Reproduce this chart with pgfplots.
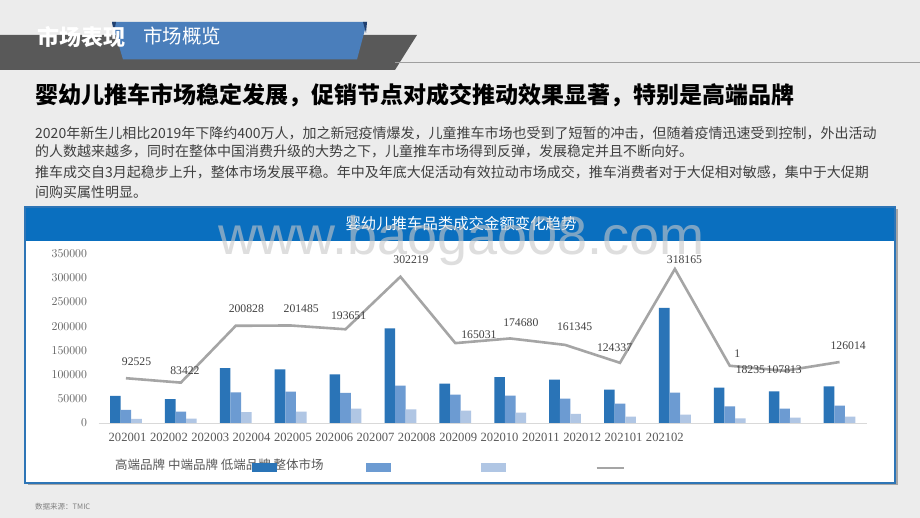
\documentclass[border=0pt]{standalone}
\usepackage{fontspec}
\setmainfont{Liberation Serif}
\newfontfamily\cjk{Noto Sans CJK SC}
\newfontfamily\wm{Liberation Sans}
\usepackage{pgfplots}
\pgfplotsset{compat=1.18}
\definecolor{bgc}{HTML}{ECECEC}
\definecolor{hdr}{HTML}{595959}
\definecolor{tab}{HTML}{4A7EBB}
\definecolor{tabdark}{HTML}{1F3F6F}
\definecolor{boxblue}{HTML}{0A6FBF}
\definecolor{boxedge}{HTML}{2E75B6}
\definecolor{c1}{HTML}{2A74B7}
\definecolor{c2}{HTML}{6C9BD2}
\definecolor{c3}{HTML}{B0C6E4}
\definecolor{linec}{HTML}{A5A5A5}
\definecolor{axisc}{HTML}{D9D9D9}
\definecolor{tickc}{HTML}{595959}
\definecolor{labc}{HTML}{404040}
\definecolor{parac}{HTML}{3F3F3F}

\pgfplotstableread{
x y dx dy lab
0 92525 0 17 92525
1 83422 -6.5 12 83422
2 200828 0 17 200828
3 201485 0 16.5 201485
4 193651 -7.5 14 193651
5 302219 0 17 302219
6 165031 13 8 165031
7 174680 0 16 174680
8 161345 -1 18 161345
9 124337 -16 15 124337
10 318165 -1 9 318165
11 118235 -3 12 1
11 118235 10 -4 18235
12 107813 -11 1 107813
13 126014 -2 16 126014
}\labtable

\begin{document}
\begin{tikzpicture}
\useasboundingbox (0,0) rectangle (920pt,518pt);
\fill[bgc] (0,0) rectangle (920pt,518pt);
\begin{scope}[yshift=518pt, x=1pt, y=-1pt]
  % header
  \fill[hdr] (0,35) -- (417,35) -- (395,70) -- (0,70) -- cycle;
  \draw[gray!75, line width=0.8pt] (395,62.5) -- (920,62.5);
  \fill[tab] (112,22) -- (367,22) -- (357,59.5) -- (123,59.5) -- cycle;
  \fill[tabdark] (112,22) -- (116,22) -- (114,33) -- cycle;
  \fill[tabdark] (363,22) -- (367,22) -- (366,33) -- cycle;
  \node[anchor=west, inner sep=0pt, text=white, font=\cjk\bfseries\fontsize{22}{24}\selectfont] at (37,37) {市场表现};
  \node[anchor=west, inner sep=0pt, text=white, font=\cjk\fontsize{19.5}{22}\selectfont] at (143,36) {市场概览};
  % title
  \node[anchor=west, inner sep=0pt, text=black, font=\cjk\bfseries\fontsize{23}{25}\selectfont] at (35,95) {婴幼儿推车市场稳定发展，促销节点对成交推动效果显著，特别是高端品牌};
  % paragraphs
  \begin{scope}[every node/.style={anchor=west, inner sep=0pt, text=parac, font=\cjk\fontsize{14.0}{16}\selectfont}]
    \node at (35,133.3) {2020年新生儿相比2019年下降约400万人，加之新冠疫情爆发，儿童推车市场也受到了短暂的冲击，但随着疫情迅速受到控制，外出活动};
    \node at (35,151) {的人数越来越多，同时在整体中国消费升级的大势之下，儿童推车市场得到反弹，发展稳定并且不断向好。};
    \node at (35,172) {推车成交自3月起稳步上升，整体市场发展平稳。年中及年底大促活动有效拉动市场成交，推车消费者对于大促相对敏感，集中于大促期};
    \node at (35,192) {间购买属性明显。};
  \end{scope}
  % chart box
  \fill[gray!70] (27.5,209.5) rectangle (897.5,485.5);
  \fill[white] (25,207) rectangle (895,483);
  \fill[boxblue] (25,207) rectangle (895,241);
  \draw[boxedge, line width=2pt] (25,207) rectangle (895,483);
  \node[inner sep=0pt, text=white, font=\cjk\fontsize{15.4}{17}\selectfont] at (461,224) {婴幼儿推车品类成交金额变化趋势};
  % legend text
  \node[anchor=west, inner sep=0pt, text=tickc, font=\cjk\fontsize{12.5}{14}\selectfont] at (115,465) {高端品牌 中端品牌 低端品牌 整体市场};
  % source
  \node[anchor=west, inner sep=0pt, text=gray, font=\cjk\fontsize{7.5}{9}\selectfont] at (35,507) {数据来源：TMIC};
\end{scope}

\begin{axis}[
  at={(98.5pt,95pt)}, anchor=south west,
  scale only axis, width=768.5pt, height=169.4pt,
  xmin=-0.5, xmax=13.5, ymin=0, ymax=350000,
  clip=false,
  ybar=0pt, bar width=10.6pt,
  axis x line*=bottom, axis y line*=left,
  x axis line style={draw=axisc, line width=0.9pt, -},
  y axis line style={draw=none},
  major tick length=0pt,
  xtick={0.03,0.783,1.536,2.289,3.042,3.795,4.547,5.300,6.053,6.806,7.559,8.312,9.065,9.818},
  xticklabels={202001,202002,202003,202004,202005,202006,202007,202008,202009,202010,202011,202012,202101,202102},
  x tick label style={font=\fontsize{12.6}{13}\selectfont, text=tickc, yshift=-7pt},
  ytick={0,50000,100000,150000,200000,250000,300000,350000},
  scaled y ticks=false,
  y tick label style={font=\fontsize{12.6}{13}\selectfont, text=tickc, xshift=-8pt,
     /pgf/number format/fixed, /pgf/number format/1000 sep={}},
  legend columns=4,
  legend style={at={(0.1997,-0.2656)}, anchor=west, draw=none, fill=none,
     inner sep=0pt, outer sep=0pt, nodes={inner sep=0pt, outer sep=0pt},
     /tikz/every even column/.append style={column sep=88.5pt}},
]
\addplot[fill=c1, draw=none, legend image code/.code={\fill[c1] (0pt,-4.5pt) rectangle (25pt,4.5pt);}] coordinates {
(0,55800) (1,49500) (2,113600) (3,110700) (4,100600) (5,195600) (6,81200)
(7,95000) (8,89500) (9,68800) (10,237600) (11,72900) (12,65500) (13,75800)};
\addlegendentry{}
\addplot[fill=c2, draw=none, legend image code/.code={\fill[c2] (0pt,-4.5pt) rectangle (25pt,4.5pt);}] coordinates {
(0,26900) (1,23500) (2,63200) (3,64700) (4,62000) (5,77100) (6,58500)
(7,56400) (8,50200) (9,39900) (10,62600) (11,34500) (12,29600) (13,35700)};
\addlegendentry{}
\addplot[fill=c3, draw=none, legend image code/.code={\fill[c3] (0pt,-4.5pt) rectangle (25pt,4.5pt);}] coordinates {
(0,8300) (1,9000) (2,22700) (3,23400) (4,29600) (5,28300) (6,25400)
(7,21300) (8,18600) (9,13000) (10,17200) (11,9700) (12,11000) (13,13000)};
\addlegendentry{}
\addplot[sharp plot, draw=linec, line width=2.6pt, mark=none,
  legend image code/.code={\draw[linec, line width=2.5pt] (0pt,0pt) -- (27pt,0pt);}] coordinates {
(0,92525) (1,83422) (2,200828) (3,201485) (4,193651) (5,302219) (6,165031)
(7,174680) (8,161345) (9,124337) (10,318165) (11,118235) (12,107813) (13,126014)};
\addlegendentry{}
\addplot[sharp plot, draw=none, mark=none, forget plot,
  nodes near coords, point meta=explicit symbolic,
  visualization depends on={\thisrow{dx}\as\dx},
  visualization depends on={\thisrow{dy}\as\dy},
  nodes near coords style={anchor=center, xshift=\dx, yshift=\dy, inner sep=0pt,
     text=labc, font=\fontsize{11.7}{12}\selectfont}]
  table[x=x, y=y, meta=lab] {\labtable};
\end{axis}

\begin{scope}[yshift=518pt, x=1pt, y=-1pt]
  \node[anchor=base west, inner sep=0pt, text={rgb,255:red,200;green,200;blue,200}, opacity=0.6,
    font=\wm\fontsize{54}{54}\selectfont] at (218,255) {www.baogao08.com};
\end{scope}
\end{tikzpicture}
\end{document}
